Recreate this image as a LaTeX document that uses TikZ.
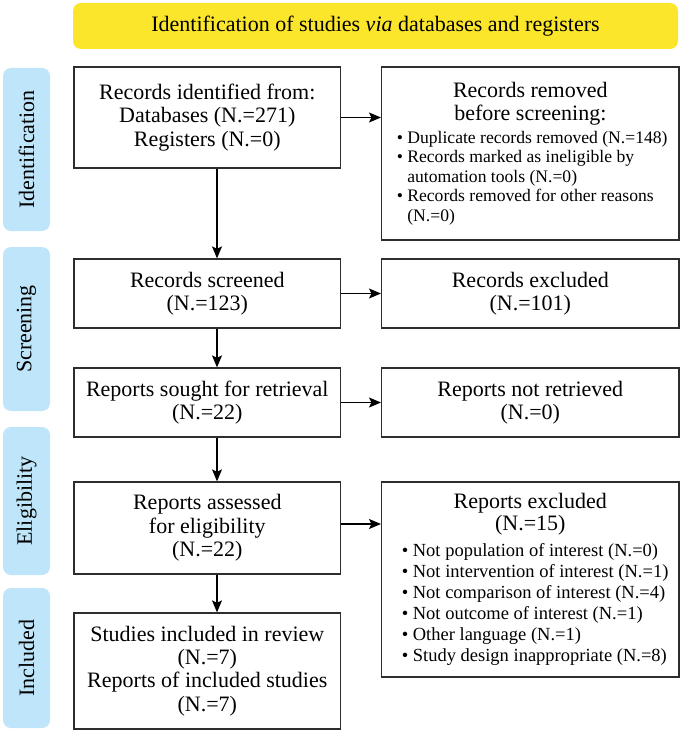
\documentclass[tikz,border=0pt]{standalone}
\usepackage{fontspec}
\setmainfont{Liberation Serif}
\usetikzlibrary{arrows.meta}
\definecolor{hdryellow}{RGB}{251,230,43}
\definecolor{sideblue}{RGB}{190,229,249}
\definecolor{boxline}{RGB}{45,45,45}
\newcommand{\mainfs}{\fontsize{22}{23.3}\selectfont}
\newcommand{\bulfsA}{\fontsize{17.6}{19.5}\selectfont}
\newcommand{\bulfsB}{\fontsize{18.5}{21}\selectfont}
\newcommand{\bitemline}[1]{\mbox{\textbullet\ #1}\par}
\newcommand{\bcontline}[1]{\mbox{\hphantom{\textbullet\ }#1}\par}
\tikzset{
  flowbox/.style={draw=boxline, line width=1.3pt, rectangle, inner sep=0pt,
    minimum width=266.7pt, align=center, font=\mainfs},
  sidebox/.style={fill=sideblue, rounded corners=8pt, rotate=90, inner sep=0pt,
    minimum height=47pt, font=\mainfs},
  hdrbox/.style={fill=hdryellow, rounded corners=8pt, inner sep=0pt,
    minimum width=605pt, minimum height=46pt, font=\mainfs},
  arr/.style={line width=1.2pt, black, -{Stealth[length=12pt,width=10pt,inset=2.5pt]}}
}
\begin{document}
\begin{tikzpicture}[x=1pt,y=-1pt]
\useasboundingbox (0,0) rectangle (680,730);
% header
\node[hdrbox] (hdr) at (375.5,26) {Identification of studies \textit{via} databases and registers};
% side labels
\node[sidebox, minimum width=163pt] (sid) at (26.5,149.5) {Identification};
\node[sidebox, minimum width=164pt] (sscr) at (26.5,329) {Screening};
\node[sidebox, minimum width=148pt] (selg) at (26.5,501) {Eligibility};
\node[sidebox, minimum width=140pt] (sinc) at (26.5,658) {Included};
% left column
\node[flowbox, minimum height=101pt] (ident) at (207.3,117.5)
  {Records identified from:\\Databases (N.=271)\\Registers (N.=0)};
\node[flowbox, minimum height=69pt] (screened) at (207.3,293.5)
  {Records screened\\(N.=123)};
\node[flowbox, minimum height=69pt] (sought) at (207.3,402.5)
  {Reports sought for retrieval\\(N.=22)};
\node[flowbox, minimum height=92pt] (assessed) at (207.3,528)
  {Reports assessed\\for eligibility\\(N.=22)};
\node[flowbox, minimum height=116pt] (included) at (207.3,671)
  {Studies included in review\\(N.=7)\\Reports of included studies\\(N.=7)};
% right column
\node[flowbox, minimum width=297.3pt, minimum height=173pt, text width=267pt, align=none] (removed) at (530.3,153.5)
  {{\centering Records removed\\before screening:\par}%
   \vspace{3.5pt}%
   {\raggedright\bulfsA
   \bitemline{Duplicate records removed (N.=148)}
   \bitemline{Records marked as ineligible by}
   \bcontline{automation tools (N.=0)}
   \bitemline{Records removed for other reasons}
   \bcontline{(N.=0)}}};
\node[flowbox, minimum width=297.3pt, minimum height=69pt] (excl) at (530.3,293.5)
  {Records excluded\\(N.=101)};
\node[flowbox, minimum width=297.3pt, minimum height=69pt] (notret) at (530.3,402.5)
  {Reports not retrieved\\(N.=0)};
\node[flowbox, minimum width=297.3pt, minimum height=195pt, text width=257pt, align=none] (repexcl) at (530.3,579.5)
  {{\centering\fontsize{22}{22.5}\selectfont Reports excluded\\(N.=15)\par}%
   \vspace{5pt}%
   {\raggedright\bulfsB
   \bitemline{Not population of interest (N.=0)}
   \bitemline{Not intervention of interest (N.=1)}
   \bitemline{Not comparison of interest (N.=4)}
   \bitemline{Not outcome of interest (N.=1)}
   \bitemline{Other language (N.=1)}
   \bitemline{Study design inappropriate (N.=8)}}};
% connectors
\coordinate (ax) at (217,0);
\draw[arr] (ax |- ident.south) -- (ax |- screened.north);
\draw[arr] (ax |- screened.south) -- (ax |- sought.north);
\draw[arr] (ax |- sought.south) -- (ax |- assessed.north);
\draw[arr] (ax |- assessed.south) -- (ax |- included.north);
\draw[arr] (ident.east) -- (ident.east -| removed.west);
\draw[arr] (screened.east) -- (screened.east -| excl.west);
\draw[arr] (sought.east) -- (sought.east -| notret.west);
\coordinate (ae) at ([yshift=4pt]assessed.east);
\draw[arr] (ae) -- (ae -| repexcl.west);
\end{tikzpicture}
\end{document}
